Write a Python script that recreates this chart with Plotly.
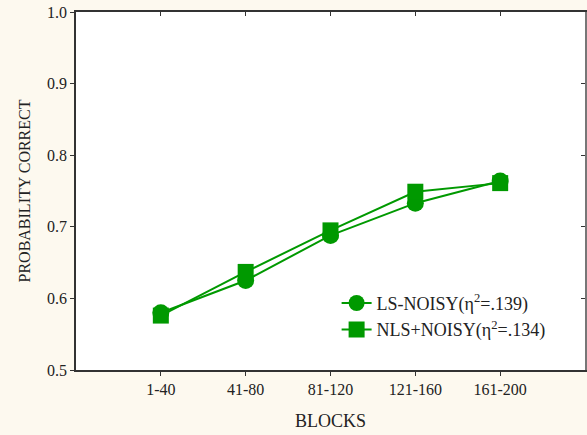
import plotly.graph_objects as go

categories = ["1-40", "41-80", "81-120", "121-160", "161-200"]
ls_noisy = [0.580, 0.625, 0.688, 0.733, 0.764]
nls_noisy = [0.576, 0.637, 0.695, 0.749, 0.761]
y_ticks = [0.5, 0.6, 0.7, 0.8, 0.9, 1.0]
series_names = ["LS-NOISY(η<sup>2</sup>=.139)", "NLS+NOISY(η<sup>2</sup>=.134)"]

green = "#009900"
axis_col = "#333333"
font_family = "Liberation Serif"

fig = go.Figure()
fig.add_trace(go.Scatter(
    x=categories, y=ls_noisy, name=series_names[0], mode="lines+markers",
    line=dict(color=green, width=2),
    marker=dict(symbol="circle", size=17, color=green),
))
fig.add_trace(go.Scatter(
    x=categories, y=nls_noisy, name=series_names[1], mode="lines+markers",
    line=dict(color=green, width=2),
    marker=dict(symbol="square", size=16, color=green),
))
# invisible trace to carry the mirrored (inward tick) axes
fig.add_trace(go.Scatter(
    x=categories, y=ls_noisy, xaxis="x2", yaxis="y2", mode="markers",
    marker=dict(opacity=0), showlegend=False, hoverinfo="skip",
))

fig.update_layout(
    width=587, height=435,
    paper_bgcolor="#fdf9ef", plot_bgcolor="white",
    margin=dict(l=76, r=2, t=12, b=65, autoexpand=False),
    font=dict(family=font_family, size=16, color="#222222"),
    xaxis=dict(
        type="category", range=[-1, 5], showgrid=False, zeroline=False,
        showline=True, linecolor=axis_col, linewidth=1.5,
        ticks="outside", ticklen=4, tickcolor=axis_col, automargin=False,
        title=dict(text="BLOCKS", font=dict(size=18), standoff=17),
        tickfont=dict(size=16),
    ),
    yaxis=dict(
        range=[0.5, 1.0], tickvals=y_ticks, tickformat=".1f", showgrid=False,
        zeroline=False, showline=True, linecolor=axis_col, linewidth=1.5,
        ticks="outside", ticklen=4, tickcolor=axis_col, automargin=False,
        ticklabeloverflow="allow",
        title=dict(text="PROBABILITY CORRECT", font=dict(size=16), standoff=12),
        tickfont=dict(size=16),
    ),
    xaxis2=dict(
        type="category", range=[-1, 5], overlaying="x", side="top",
        showgrid=False, zeroline=False, showline=True, linecolor=axis_col,
        linewidth=1.5, ticks="inside", ticklen=4, tickcolor=axis_col,
        showticklabels=False, automargin=False,
    ),
    yaxis2=dict(
        range=[0.5, 1.0], tickvals=y_ticks, overlaying="y", side="right",
        showgrid=False, zeroline=False, showline=True, linecolor="#777777",
        linewidth=1.5, ticks="inside", ticklen=4, tickcolor=axis_col,
        showticklabels=False, automargin=False,
    ),
    legend=dict(
        x=0.512, y=0.238, xanchor="left", yanchor="top",
        bgcolor="rgba(0,0,0,0)", font=dict(size=18),
        itemwidth=30, tracegroupgap=0,
    ),
)

fig.write_html(
    "out.html",
    config={"displayModeBar": False},
    post_script="document.body.style.margin='0';",
)
